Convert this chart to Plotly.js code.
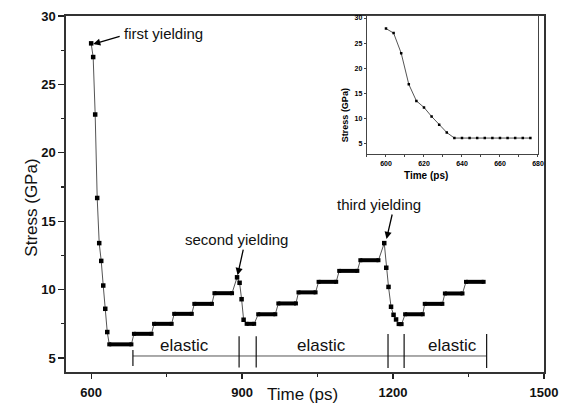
<!DOCTYPE html>
<html>
<head>
<meta charset="utf-8">
<script src="https://cdn.plot.ly/plotly-3.0.1.min.js"></script>
<style>
html,body{margin:0;padding:0;background:#fff;}
#chart{width:566px;height:415px;}
</style>
</head>
<body>
<div id="chart"></div>
<script>
// ---- main series: yielding drops (individual samples) ----
const dropTime1 = [600, 604, 608, 612, 616, 620, 624, 628, 632];
const dropStress1 = [28.0, 27.0, 22.8, 16.7, 13.4, 12.1, 10.3, 8.6, 6.9];
const dropTime2 = [890, 895, 899, 903];
const dropStress2 = [10.9, 10.5, 9.3, 7.8];
const dropTime3 = [1182.5, 1186.5, 1191, 1196, 1201, 1206];
const dropStress3 = [13.4, 11.6, 10.2, 8.75, 8.16, 7.82];

// ---- elastic stair plateaus (first and last sample of each step) ----
const plateauStart  = [636, 685, 725, 765, 805, 845, 909, 932, 972, 1012, 1052, 1093, 1135, 1211, 1224, 1263, 1303, 1345];
const plateauEnd    = [680, 720, 760, 800, 840, 880, 924, 966, 1007, 1046, 1087, 1129, 1171, 1217, 1259, 1298, 1338, 1380];
const plateauStress = [6.0, 6.77, 7.5, 8.23, 8.96, 9.74, 7.5, 8.2, 8.99, 9.8, 10.57, 11.37, 12.15, 7.48, 8.2, 8.96, 9.72, 10.57];

// ---- elastic region brackets ----
const elasticLabelTime = [786, 1057, 1318];
const elasticLabelStress = [5.95, 5.95, 5.95];
const bracketLevel = 5.15;
const bracketTickTime = [683, 894, 928, 1190, 1222, 1386];
const bracketTickLow  = [4.42, 4.3, 4.3, 4.27, 4.27, 4.27];
const bracketTickHigh = [5.58, 6.6, 6.6, 6.75, 6.75, 6.75];

// ---- yielding labels ----
const yieldLabels = ['first yielding', 'second yielding', 'third yielding'];
const yieldLabelTime = [744, 889, 1172];
const yieldLabelStress = [28.74, 13.7, 16.25];
const yieldArrowTime = [604, 891, 1187];
const yieldArrowStress = [27.95, 11.06, 13.7];

// ---- inset (zoom on first yielding) ----
const insetTime = [600, 604, 608, 612, 616, 620, 624, 628, 632, 636, 640, 644, 648, 652, 656, 660, 664, 668, 672, 676];
const insetStress = [27.9, 27.0, 23.0, 16.8, 13.5, 12.2, 10.4, 8.75, 7.2, 6.1, 6.1, 6.1, 6.1, 6.1, 6.1, 6.1, 6.1, 6.1, 6.1, 6.1];

const mainTickVals = [600, 900, 1200, 1500];
const mainYTicks = [5, 10, 15, 20, 25, 30];
const insetXTicks = [600, 620, 640, 660, 680];
const insetYTicks = [5, 10, 15, 20, 25, 30];

// build the ordered main line
let pts = [];
dropTime1.forEach((t, i) => pts.push([t, dropStress1[i]]));
dropTime2.forEach((t, i) => pts.push([t, dropStress2[i]]));
dropTime3.forEach((t, i) => pts.push([t, dropStress3[i]]));
plateauStart.forEach((t, i) => { pts.push([t, plateauStress[i]]); pts.push([plateauEnd[i], plateauStress[i]]); });
pts.sort((a, b) => a[0] - b[0]);

const barX = [], barY = [];
plateauStart.forEach((t, i) => { barX.push(t, plateauEnd[i], null); barY.push(plateauStress[i], plateauStress[i], null); });

const tickX = [], tickY = [];
bracketTickTime.forEach((t, i) => { tickX.push(t, t, null); tickY.push(bracketTickLow[i], bracketTickHigh[i], null); });

const FONT = 'Liberation Sans, Arial, sans-serif';

const traces = [
  { x: pts.map(p => p[0]), y: pts.map(p => p[1]), mode: 'lines', line: { color: '#555', width: 1 }, hoverinfo: 'skip' },
  { x: barX, y: barY, mode: 'lines+markers', line: { color: '#000', width: 4 }, marker: { symbol: 'square', size: 4, color: '#000' }, connectgaps: false },
  { x: dropTime1.concat(dropTime2, dropTime3), y: dropStress1.concat(dropStress2, dropStress3), mode: 'markers', marker: { symbol: 'square', size: 4.5, color: '#000' } },
  { x: [bracketTickTime[0], bracketTickTime[bracketTickTime.length - 1]], y: [bracketLevel, bracketLevel], mode: 'lines', line: { color: '#555', width: 1 } },
  { x: tickX, y: tickY, mode: 'lines', line: { color: '#111', width: 1.2 } },
  { x: insetTime, y: insetStress, xaxis: 'x2', yaxis: 'y2', mode: 'lines+markers', line: { color: '#555', width: 1 }, marker: { symbol: 'square', size: 2.5, color: '#000' } }
];

const annotations = [];
elasticLabelTime.forEach((t, i) => annotations.push({ x: t, y: elasticLabelStress[i], xref: 'x', yref: 'y', text: 'elastic', showarrow: false, font: { family: FONT, size: 17, color: '#111' } }));
yieldLabels.forEach((s, i) => {
  annotations.push({ x: yieldLabelTime[i], y: yieldLabelStress[i], xref: 'x', yref: 'y', text: s, showarrow: false, font: { family: FONT, size: 15, color: '#111' } });
});
const arrowOffsets = [[28, -8], [6, -27], [6, -26]];
yieldArrowTime.forEach((t, i) => annotations.push({ x: t, y: yieldArrowStress[i], xref: 'x', yref: 'y', text: '', showarrow: true, arrowhead: 2, arrowsize: 1.1, arrowwidth: 1.3, arrowcolor: '#000', ax: arrowOffsets[i][0], ay: arrowOffsets[i][1] }));
// axis titles
annotations.push({ xref: 'paper', yref: 'paper', x: 0.4958, y: -0.096, text: 'Time (ps)', showarrow: false, font: { family: FONT, size: 17, color: '#111' } });
annotations.push({ xref: 'paper', yref: 'paper', x: -0.097, y: 0.462, text: 'Stress (GPa)', textangle: -90, showarrow: false, font: { family: FONT, size: 17, color: '#111' } });
annotations.push({ xref: 'paper', yref: 'paper', x: 0.8033, y: 0.553, text: 'Time (ps)', showarrow: false, font: { family: FONT, size: 10, color: '#000', weight: 'bold' } });
annotations.push({ xref: 'paper', yref: 'paper', x: 0.584, y: 0.8034, text: 'Stress (GPa)', textangle: -90, showarrow: false, font: { family: FONT, size: 9, color: '#000', weight: 'bold' } });

const layout = {
  width: 566, height: 415,
  margin: { l: 66, r: 22, t: 16, b: 43 },
  paper_bgcolor: '#fff', plot_bgcolor: '#fff',
  showlegend: false,
  font: { family: FONT, color: '#111' },
  xaxis: {
    range: [550, 1500], tickvals: mainTickVals, ticks: 'outside', ticklen: 5, tickwidth: 1.3, tickcolor: '#222',
    ticklabelstandoff: 3,
    minor: { dtick: 150, tick0: 450, ticks: 'outside', ticklen: 3, tickwidth: 1.2, tickcolor: '#222' },
    showgrid: false, zeroline: false, showline: true, linecolor: '#333', linewidth: 1.6, mirror: true,
    tickfont: { family: FONT, size: 13, weight: 'bold', color: '#111' }
  },
  yaxis: {
    range: [3.98, 30], tickvals: mainYTicks, ticks: 'outside', ticklen: 6, tickwidth: 1.3, tickcolor: '#222',
    minor: { dtick: 2.5, tick0: 0, ticks: 'outside', ticklen: 3, tickwidth: 1.2, tickcolor: '#222' },
    showgrid: false, zeroline: false, showline: true, linecolor: '#333', linewidth: 1.6, mirror: true,
    tickfont: { family: FONT, size: 13, weight: 'bold', color: '#111' }
  },
  xaxis2: {
    domain: [0.6297, 0.9874], anchor: 'y2', range: [590, 680], tickvals: insetXTicks, ticks: 'outside', ticklen: 2, tickwidth: 1,
    minor: { dtick: 10, tick0: 0, ticks: 'outside', ticklen: 1.5 },
    showgrid: false, zeroline: false, showline: true, linecolor: '#444', linewidth: 1.3, mirror: true,
    tickfont: { family: FONT, size: 7, weight: 'bold', color: '#000' }
  },
  yaxis2: {
    domain: [0.612, 1], anchor: 'x2', range: [2.9, 30.4], tickvals: insetYTicks, ticks: 'outside', ticklen: 2, tickwidth: 1,
    showgrid: false, zeroline: false, showline: true, linecolor: '#444', linewidth: 1.3, mirror: true,
    tickfont: { family: FONT, size: 7, weight: 'bold', color: '#000' }
  },
  annotations: annotations
};

Plotly.newPlot('chart', traces, layout, { staticPlot: true, displayModeBar: false });
</script>
</body>
</html>
